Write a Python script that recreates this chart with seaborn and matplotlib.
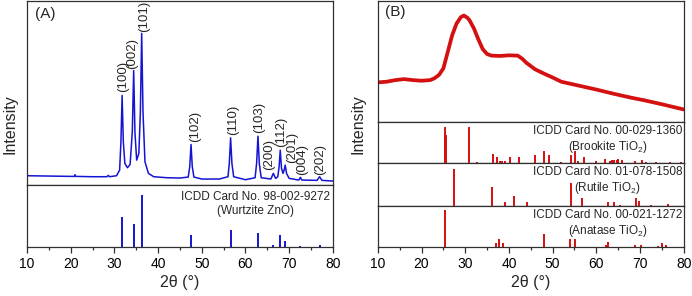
import numpy as np
import pandas as pd
import seaborn as sns
import matplotlib.pyplot as plt
from matplotlib.ticker import MultipleLocator

# ---- panel A: ZnO pattern ----
zno_x = [10, 15, 20, 20.9, 21.0, 21.1, 25, 28.3, 28.6, 28.9, 30.5, 31.2, 31.5, 31.77, 32.05,
         32.4, 33.0, 33.6, 34.1, 34.42, 34.7, 35.1, 35.6, 35.95, 36.25, 36.55, 37.0, 37.8,
         39, 42, 45, 46.9, 47.25, 47.54, 47.83, 48.2, 50, 54, 56.0, 56.3, 56.6, 56.9, 57.3,
         60, 62.2, 62.55, 62.86, 63.17, 63.6, 65.8, 66.38, 66.9, 67.4, 67.7, 67.96, 68.25,
         68.6, 68.85, 69.1, 69.4, 70, 72.2, 72.56, 72.9, 76.4, 76.95, 77.5, 80]
zno_y = [28, 27, 26, 26, 31, 26, 25, 25, 29, 25, 28, 45, 130, 270, 130,
         65, 52, 62, 160, 345, 160, 75, 95, 220, 457, 220, 70, 35,
         25, 22, 21, 24, 55, 122, 55, 24, 18, 18, 25, 65, 142, 65, 25,
         16, 22, 65, 147, 65, 22, 18, 35, 20, 25, 55, 105, 50,
         35, 45, 60, 35, 20, 15, 23, 15, 14, 25, 14, 12]

zno_hkl = ['(100)', '(002)', '(101)', '(102)', '(110)', '(103)', '(200)', '(112)', '(201)', '(004)', '(202)']
zno_lbl_x = [32.0, 34.1, 36.7, 48.5, 57.1, 63.2, 65.5, 68.2, 70.6, 73.0, 77.1]
zno_lbl_y = [280, 350, 462, 130, 150, 158, 45, 115, 65, 30, 30]

zno_ref_pos = [31.77, 34.42, 36.25, 47.54, 56.60, 62.86, 66.38, 67.96, 69.10, 72.56, 76.95]
zno_ref_int = [58, 44, 100, 22, 32, 27, 4, 23, 11, 1.5, 3]

# ---- panel B: TiO2 pattern ----
tio_x = [10, 12, 14, 16, 18, 20, 22, 23, 24, 25, 26, 27, 28, 29, 29.7, 30.5, 31, 32, 33,
         34, 35, 36, 38, 40, 42, 43, 44, 46, 48, 50, 52, 56, 60, 64, 68, 71, 75, 80]
tio_y = [122, 124, 129, 132, 129, 127, 129, 135, 145, 165, 215, 266, 302, 322, 327, 320,
         312, 287, 254, 224, 209, 204, 203, 205, 204, 195, 182, 162, 149, 137, 124, 112,
         100, 87, 75, 67, 55, 39]

brookite_pos = [19.1, 25.34, 25.69, 30.81, 32.79, 36.25, 37.30, 37.93, 38.37, 39.21, 40.15,
                42.34, 46.07, 48.01, 49.17, 52.01, 54.20, 55.23, 55.72, 57.18, 59.98, 62.06,
                63.06, 63.64, 64.10, 64.68, 65.01, 65.87, 68.77, 70.43, 71.43, 73.67, 76.95, 79.3]
brookite_int = [1, 100, 78, 99, 4, 26, 18, 7, 5, 5, 16,
                16, 21, 34, 21, 3, 22, 34, 6, 16, 7, 11,
                6, 9, 8, 9, 12, 8, 6, 9, 3, 2, 4, 2]

rutile_pos = [27.45, 36.09, 39.19, 41.24, 44.05, 54.32, 56.64, 62.74, 64.04, 65.48, 69.01, 69.79, 72.41, 74.4, 76.5]
rutile_int = [100, 50, 10, 27, 12, 61, 21, 10, 10, 2, 21, 13, 2, 1, 5]

anatase_pos = [25.28, 36.95, 37.80, 38.58, 48.05, 53.89, 55.06, 62.12, 62.69, 68.76, 70.31, 74.03, 75.03, 76.02]
anatase_int = [100, 10, 20, 10, 35, 20, 20, 4, 13, 6, 6, 2, 11, 4]

cards_b = ['ICDD Card No. 00-029-1360\n(Brookite TiO$_2$)',
           'ICDD Card No. 01-078-1508\n(Rutile TiO$_2$)',
           'ICDD Card No. 00-021-1272\n(Anatase TiO$_2$)']

blue = '#1414d2'
red = '#d41010'

sns.set_style('ticks')
plt.rcParams['font.family'] = ['Liberation Sans', 'DejaVu Sans']
plt.rcParams['mathtext.fontset'] = 'custom'
plt.rcParams['mathtext.rm'] = 'Liberation Sans'
plt.rcParams['mathtext.it'] = 'Liberation Sans'
plt.rcParams['axes.edgecolor'] = '#303030'
plt.rcParams['axes.linewidth'] = 0.9

fig = plt.figure(figsize=(6.92, 2.96), dpi=100)
gsa = fig.add_gridspec(2, 1, left=0.039, right=0.481, top=0.995, bottom=0.166,
                       height_ratios=[184, 62], hspace=0)
gsb = fig.add_gridspec(4, 1, left=0.546, right=0.988, top=0.995, bottom=0.166,
                       height_ratios=[121, 41, 43, 41], hspace=0)

axes_a = [fig.add_subplot(gsa[i]) for i in range(2)]
axes_b = [fig.add_subplot(gsb[i]) for i in range(4)]


def style(ax, bottom):
    ax.set_xlim(10, 80)
    ax.set_yticks([])
    ax.set_ylabel('')
    ax.xaxis.set_major_locator(MultipleLocator(10))
    ax.xaxis.set_minor_locator(MultipleLocator(5))
    if bottom:
        ax.tick_params(axis='x', which='major', direction='out', length=4, width=0.9,
                       labelsize=10, pad=3, colors='#303030', labelcolor='black')
        ax.tick_params(axis='x', which='minor', direction='out', length=2.2, width=0.9,
                       colors='#303030')
        ax.set_xlabel('2θ (°)', fontsize=11.5, labelpad=3)
    else:
        ax.tick_params(axis='x', which='both', length=0, labelbottom=False)
        ax.set_xlabel('')


# panel A
ax = axes_a[0]
sns.lineplot(x=zno_x, y=zno_y, ax=ax, color=blue, linewidth=1.1, sort=False)
ax.set_ylim(0, 553)
for lab, lx, ly in zip(zno_hkl, zno_lbl_x, zno_lbl_y):
    ax.text(lx, ly, lab, rotation=90, ha='center', va='bottom', fontsize=9.5, clip_on=False)
ax.text(0.025, 0.97, '(A)', transform=ax.transAxes, ha='left', va='top', fontsize=11)
style(ax, False)

ax = axes_a[1]
ax.vlines(zno_ref_pos, 0, zno_ref_int, color=blue, linewidth=1.4)
ax.set_ylim(0, 119)
ax.text(0.99, 0.9, 'ICDD Card No. 98-002-9272\n(Wurtzite ZnO)', transform=ax.transAxes,
        ha='right', va='top', multialignment='center', fontsize=8.5, linespacing=1.25)
style(ax, True)

# panel B
ax = axes_b[0]
sns.lineplot(x=tio_x, y=tio_y, ax=ax, color=red, linewidth=2.7, sort=False)
ax.set_ylim(0, 370)
ax.text(0.025, 0.97, '(B)', transform=ax.transAxes, ha='left', va='top', fontsize=11)
style(ax, False)

for ax, pos, inten, card, top in zip(axes_b[1:], [brookite_pos, rutile_pos, anatase_pos],
                                     [brookite_int, rutile_int, anatase_int], cards_b,
                                     [112, 116, 111]):
    ax.vlines(pos, 0, inten, color=red, linewidth=1.4)
    ax.set_ylim(0, top)
    ax.text(0.995, 0.93, card, transform=ax.transAxes, ha='right', va='top',
            multialignment='center', fontsize=8.5, linespacing=1.2)
    style(ax, ax is axes_b[-1])

fig.text(0.014, 0.58, 'Intensity', rotation=90, ha='center', va='center', fontsize=11.5)
fig.text(0.517, 0.58, 'Intensity', rotation=90, ha='center', va='center', fontsize=11.5)

fig.savefig('out.png', dpi=100)
